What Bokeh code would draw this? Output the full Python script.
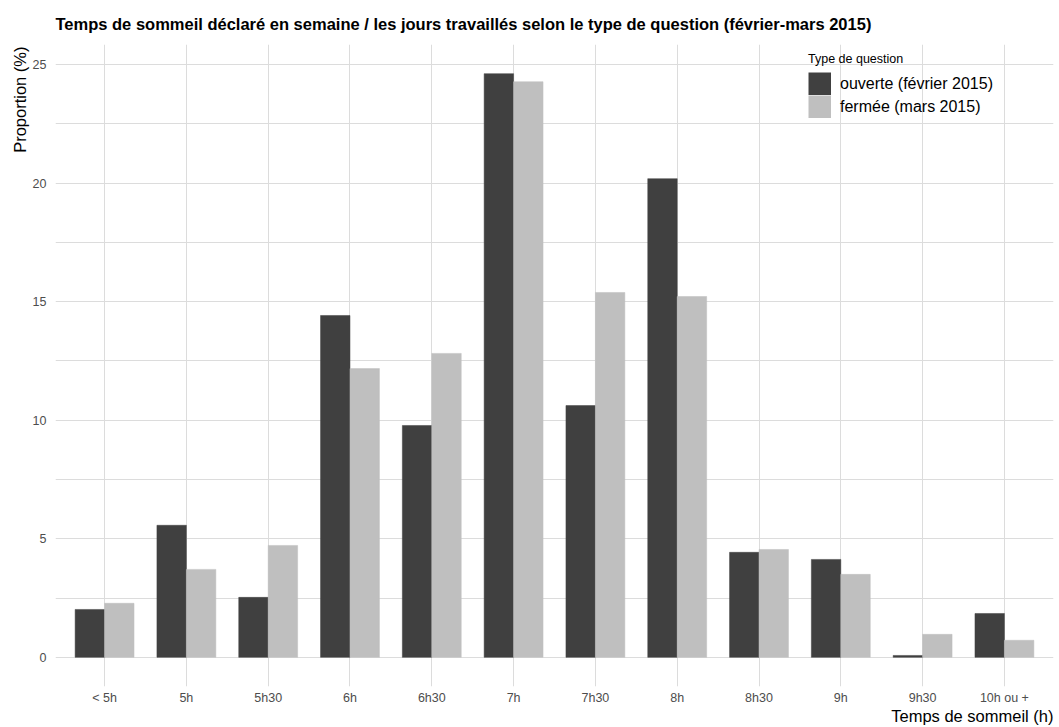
from bokeh.plotting import figure
from bokeh.models import ColumnDataSource, Range1d, FixedTicker, Title, Legend, LegendItem
from bokeh.transform import dodge
from bokeh.embed import file_html
from bokeh.resources import INLINE

categories = ["< 5h", "5h", "5h30", "6h", "6h30", "7h", "7h30", "8h", "8h30", "9h", "9h30", "10h ou +"]
ouverte = [2.02, 5.57, 2.53, 14.42, 9.78, 24.62, 10.62, 20.19, 4.43, 4.13, 0.08, 1.85]
fermee = [2.28, 3.71, 4.72, 12.18, 12.82, 24.28, 15.39, 15.22, 4.55, 3.50, 0.97, 0.72]
series_labels = ["ouverte (février 2015)", "fermée (mars 2015)"]
y_ticks = [0, 5, 10, 15, 20, 25]
y_minor = [2.5, 7.5, 12.5, 17.5, 22.5]

FONT = "Liberation Sans"
DARK = "#404040"
LIGHT = "#bfbfbf"
GRID = "#dcdcdc"

idx = list(range(len(categories)))
src = ColumnDataSource(dict(idx=idx, ouverte=ouverte, fermee=fermee))

p = figure(width=1059, height=727, output_backend="svg", toolbar_location=None,
           x_range=Range1d(-0.6, len(categories) - 0.4), y_range=Range1d(-1.23, 25.85),
           min_border_left=55, min_border_right=6, min_border_top=44, min_border_bottom=41)

p.title.text = "Temps de sommeil déclaré en semaine / les jours travaillés selon le type de question (février-mars 2015)"
p.title.text_font = FONT
p.title.text_font_size = "16.5px"
p.title.text_font_style = "bold"
p.title.text_color = "#000000"
p.title.align = "left"
p.title.offset = 0
p.title.standoff = 23

w = 0.36
r1 = p.vbar(x=dodge("idx", -w / 2, range=p.x_range), top="ouverte", width=w, bottom=0,
            source=src, fill_color=DARK, line_color=DARK, line_width=0.5)
r2 = p.vbar(x=dodge("idx", w / 2, range=p.x_range), top="fermee", width=w, bottom=0,
            source=src, fill_color=LIGHT, line_color=LIGHT, line_width=0.5)

# legend swatches (thick butt-capped lines give full squares); no visible data
nan = float("nan")
s1 = p.line(x=[nan, nan], y=[nan, nan], line_color=DARK, line_width=23, line_cap="butt")
s2 = p.line(x=[nan, nan], y=[nan, nan], line_color=LIGHT, line_width=23, line_cap="butt")

# axes
p.xaxis.ticker = FixedTicker(ticks=idx)
p.xaxis.major_label_overrides = {i: c for i, c in zip(idx, categories)}
p.yaxis.ticker = FixedTicker(ticks=y_ticks, minor_ticks=y_minor)
for ax in (p.xaxis, p.yaxis):
    ax.axis_line_color = None
    ax.major_tick_line_color = None
    ax.minor_tick_line_color = None
    ax.major_tick_out = 0
    ax.major_tick_in = 0
    ax.minor_tick_out = 0
    ax.minor_tick_in = 0
    ax.major_label_text_font = FONT
    ax.major_label_text_font_size = "12.5px"
    ax.major_label_text_color = "#4d4d4d"
p.xaxis.major_label_standoff = 4
p.yaxis.major_label_standoff = 9

p.xgrid.ticker = FixedTicker(ticks=idx)
p.xgrid.grid_line_color = GRID
p.ygrid.grid_line_color = GRID
p.ygrid.minor_grid_line_color = GRID
p.outline_line_color = None

ytitle = Title(text="Proportion (%)", align="right", text_font=FONT, text_font_size="16.5px",
               text_font_style="normal", text_color="#000000", offset=2, standoff=2)
p.add_layout(ytitle, "left")
xtitle = Title(text="Temps de sommeil (h)", align="right", text_font=FONT, text_font_size="16.5px",
               text_font_style="normal", text_color="#000000", offset=0, standoff=-5)
p.add_layout(xtitle, "below")

legend = Legend(items=[LegendItem(label=series_labels[0], renderers=[s1]),
                       LegendItem(label=series_labels[1], renderers=[s2])],
                location=(753, 568), title="Type de question",
                title_text_font=FONT, title_text_font_size="12.5px", title_text_font_style="normal",
                title_text_color="#000000", title_standoff=6,
                label_text_font=FONT, label_text_font_size="16px", label_text_color="#000000",
                glyph_width=23, glyph_height=23, label_height=23, spacing=0, label_standoff=9,
                padding=0, margin=0, border_line_color=None, background_fill_alpha=0)
p.add_layout(legend, "center")

open("out.html", "w").write(file_html(p, INLINE))
